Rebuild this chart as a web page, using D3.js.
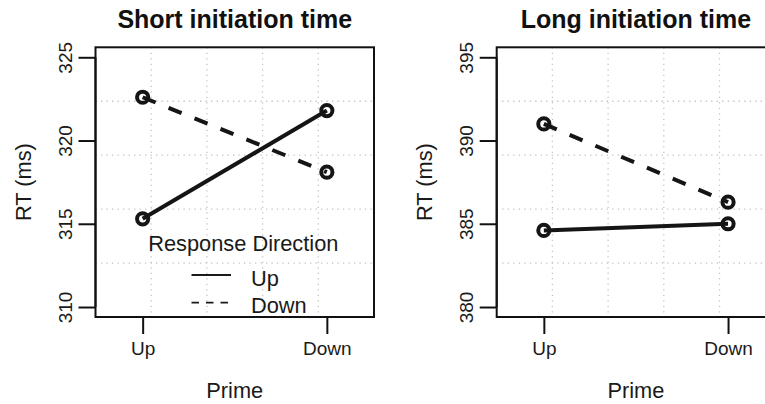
<!DOCTYPE html>
<html>
<head>
<meta charset="utf-8">
<script src="https://cdn.jsdelivr.net/npm/d3@7"></script>
<style>
  body { margin: 0; background: #fff; }
  svg { display: block; font-family: "Liberation Sans", Arial, sans-serif; }
</style>
</head>
<body>
<svg id="chart" width="765" height="404"></svg>
<script>
// data
const primes = ['Up', 'Down']
const shortUp = [315.3, 321.8]
const shortDown = [322.6, 318.1]
const longUp = [384.6, 385.0]
const longDown = [391.0, 386.3]
const shortTicks = [310, 315, 320, 325]
const longTicks = [380, 385, 390, 395]
const legendLabels = ['Up', 'Down']

const svg = d3.select('#chart')
const W = 278.5, boxTop = 47.3, boxBottom = 317

// one panel
function panel(left, title, ticks, up, down, withLegend) {
  const lo = ticks[0], hi = ticks[ticks.length - 1]
  const pad = (hi - lo) * 0.04
  const x = d3.scaleLinear().domain([0.744, 2.256]).range([left, left + W])
  const y = d3.scaleLinear().domain([lo - pad, hi + pad]).range([boxBottom, boxTop])
  const g = svg.append('g')

  // grid(5, 5): equal cells, dotted gray
  const grid = g.append('g').attr('stroke', '#c4c4c4').attr('stroke-width', 1.3)
    .attr('stroke-dasharray', '1.3,4.2')
  d3.range(1, 5).forEach((i) => {
    const gx = left + (W * i) / 5
    const gy = boxTop + ((boxBottom - boxTop) * i) / 5
    grid.append('line').attr('x1', gx).attr('x2', gx).attr('y1', boxTop).attr('y2', boxBottom)
    grid.append('line').attr('x1', left).attr('x2', left + W).attr('y1', gy).attr('y2', gy)
  })

  // box
  g.append('rect').attr('x', left).attr('y', boxTop).attr('width', W).attr('height', boxBottom - boxTop)
    .attr('fill', 'none').attr('stroke', '#111').attr('stroke-width', 2)

  // y axis
  const ya = g.append('g').attr('transform', `translate(${left},0)`)
    .call(d3.axisLeft(y).tickValues(ticks).tickSize(17))
  ya.select('.domain').remove()
  ya.selectAll('line').attr('stroke', '#111').attr('stroke-width', 2)
  ya.selectAll('text').attr('transform', 'rotate(-90)').attr('x', 0).attr('y', -24)
    .attr('dy', 0).attr('text-anchor', 'middle').attr('font-size', 19).attr('fill', '#1a1a1a')
  ya.append('line').attr('x1', 0).attr('x2', 0).attr('y1', y(lo)).attr('y2', y(hi))
    .attr('stroke', '#111').attr('stroke-width', 2)

  // x axis
  const xa = g.append('g').attr('transform', `translate(0,${boxBottom})`)
    .call(d3.axisBottom(x).tickValues([1, 2]).tickSize(17).tickFormat((d) => primes[d - 1]))
  xa.select('.domain').remove()
  xa.selectAll('line').attr('stroke', '#111').attr('stroke-width', 2)
  xa.selectAll('text').attr('y', 38).attr('dy', 0).attr('font-size', 19).attr('fill', '#1a1a1a')

  // titles
  g.append('text').attr('x', left + W / 2).attr('y', 28).attr('text-anchor', 'middle')
    .attr('font-size', 25).attr('font-weight', 'bold').attr('fill', '#111').text(title)
  g.append('text').attr('x', left + W / 2).attr('y', 398).attr('text-anchor', 'middle')
    .attr('font-size', 21.8).attr('fill', '#1a1a1a').text('Prime')
  g.append('text').attr('transform', `translate(${left - 65},${(boxTop + boxBottom) / 2}) rotate(-90)`)
    .attr('text-anchor', 'middle').attr('font-size', 21.8).attr('fill', '#1a1a1a').text('RT (ms)')

  // series
  const line = d3.line().x((d, i) => x(i + 1)).y((d) => y(d))
  const series = [
    { vals: up, dash: null },
    { vals: down, dash: '14,14' },
  ]
  series.forEach((s) => {
    g.append('path').datum(s.vals).attr('d', line).attr('fill', 'none')
      .attr('stroke', '#151515').attr('stroke-width', 4)
      .attr('stroke-dasharray', s.dash)
    g.selectAll(null).data(s.vals).enter().append('circle')
      .attr('cx', (d, i) => x(i + 1)).attr('cy', (d) => y(d)).attr('r', 5.6)
      .attr('fill', 'none').attr('stroke', '#151515').attr('stroke-width', 4)
  })

  if (withLegend) {
    const lg = g.append('g')
    lg.append('text').attr('x', 243.3).attr('y', 250.5).attr('text-anchor', 'middle')
      .attr('font-size', 21.8).attr('fill', '#1a1a1a').text('Response Direction')
    legendLabels.forEach((lab, i) => {
      const ly = 275 + i * 27.7
      lg.append('line').attr('x1', 191.5).attr('x2', 231).attr('y1', ly).attr('y2', ly)
        .attr('stroke', '#1a1a1a').attr('stroke-width', 1.8)
        .attr('stroke-dasharray', i === 1 ? '7.5,7' : null)
      lg.append('text').attr('x', 251).attr('y', ly + 10.5).attr('font-size', 21.8)
        .attr('fill', '#1a1a1a').text(lab)
    })
  }
}

panel(95.5, 'Short initiation time', shortTicks, shortUp, shortDown, true)
panel(496.7, 'Long initiation time', longTicks, longUp, longDown, false)
</script>
</body>
</html>
